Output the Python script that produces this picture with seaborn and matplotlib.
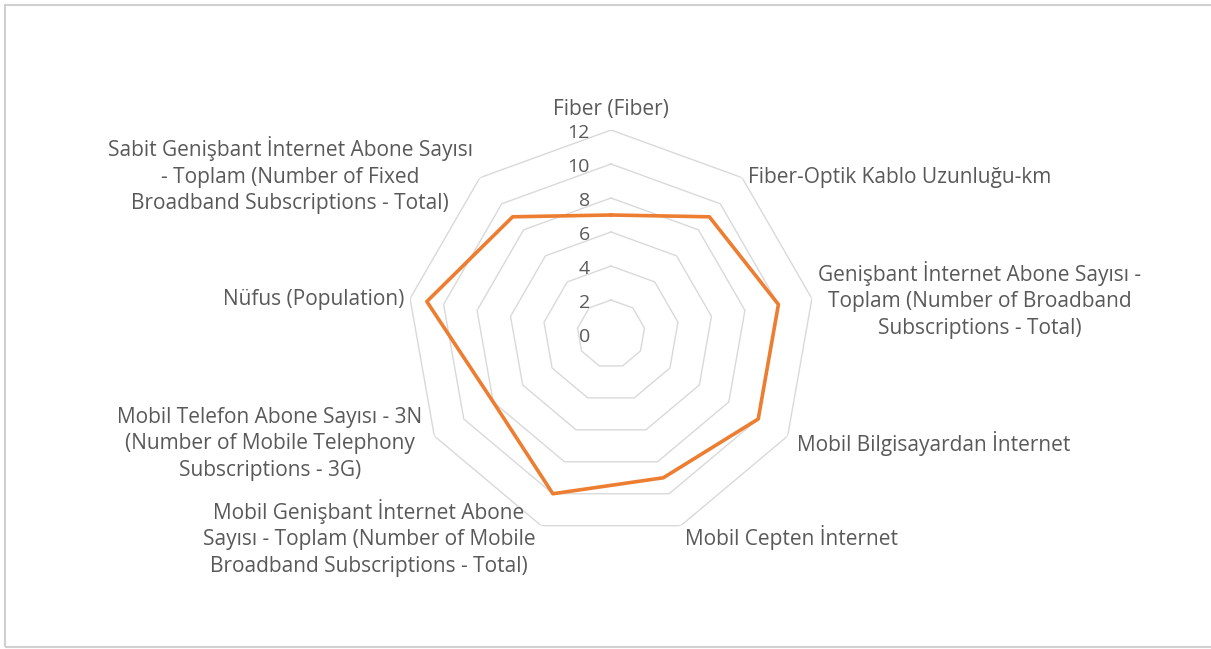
import numpy as np
import pandas as pd
import matplotlib
matplotlib.use("Agg")
import matplotlib.pyplot as plt
import matplotlib.transforms as mtransforms
from matplotlib.patches import Rectangle
import seaborn as sns

categories = [
    "Fiber (Fiber)",
    "Fiber-Optik Kablo Uzunluğu-km",
    "Genişbant İnternet Abone Sayısı -\nToplam (Number of Broadband\nSubscriptions - Total)",
    "Mobil Bilgisayardan İnternet",
    "Mobil Cepten İnternet",
    "Mobil Genişbant İnternet Abone\nSayısı - Toplam (Number of Mobile\nBroadband Subscriptions - Total)",
    "Mobil Telefon Abone Sayısı - 3N\n(Number of Mobile Telephony\nSubscriptions - 3G)",
    "Nüfus (Population)",
    "Sabit Genişbant İnternet Abone Sayısı\n- Toplam (Number of Fixed\nBroadband Subscriptions - Total)",
]
values = [7, 9, 10, 10, 9, 10, 8, 11, 9]
rticks = [0, 2, 4, 6, 8, 10, 12]

sns.set_theme(style="white")
plt.rcParams['font.family'] = ['Open Sans', 'DejaVu Sans']

W, H = 1211, 649
fig = plt.figure(figsize=(W / 100, H / 100), dpi=100)
fig.patch.set_facecolor("white")

cx, cy, R = 611, 334, 204
ax = fig.add_axes([(cx - R) / W, (H - cy - R) / H, 2 * R / W, 2 * R / H], projection="polar")
ax.set_theta_zero_location("N")
ax.set_theta_direction(-1)
ax.set_ylim(0, 12)
ax.grid(False)
ax.spines["polar"].set_visible(False)
ax.set_facecolor("none")

n = len(categories)
angles = np.arange(n) * 2 * np.pi / n
closed_angles = np.append(angles, angles[0])

# polygonal gridlines
for lvl in rticks[1:]:
    ax.plot(closed_angles, [lvl] * (n + 1), color="#d9d9d9", lw=1.0, zorder=1)

df = pd.DataFrame({"theta": closed_angles, "value": values + [values[0]]})
sns.lineplot(data=df, x="theta", y="value", sort=False, ax=ax,
             color="#ED7D31", lw=2.6, zorder=3, estimator=None)
ax.set_xlabel("")
ax.set_ylabel("")
ax.set_xticks([])
ax.set_yticks([])
ax.set_ylim(0, 12)

# radial tick labels
off = mtransforms.offset_copy(ax.transData, fig=fig, x=-21, y=-3, units="dots")
for v in rticks:
    ax.text(0, v, str(v), transform=off, ha="right", va="center",
            fontsize=14, color="#595959")

# category labels (positions in pixels)
txt = dict(fontsize=15, color="#595959", linespacing=1.33)
pos = [
    (611, 110, "center", "center"),
    (748, 177, "left", "center"),
    (980, 300, "center", "center"),
    (797, 444, "left", "center"),
    (685, 538, "left", "center"),
    (369, 538, "center", "center"),
    (270, 444, "center", "center"),
    (404, 300, "right", "center"),
    (290, 175, "center", "center"),
]
for lab, (px, py, ha, va) in zip(categories, pos):
    fig.text(px / W, 1 - py / H, lab, ha=ha, va=va, multialignment="center", **txt)

# outer border
fig.patches.append(Rectangle((5 / W, 2 / H), 1.2, 1 - 7 / H, transform=fig.transFigure,
                             fill=False, ec="#d0d0d0", lw=1.5))

fig.savefig("out.png", dpi=100, facecolor="white")
